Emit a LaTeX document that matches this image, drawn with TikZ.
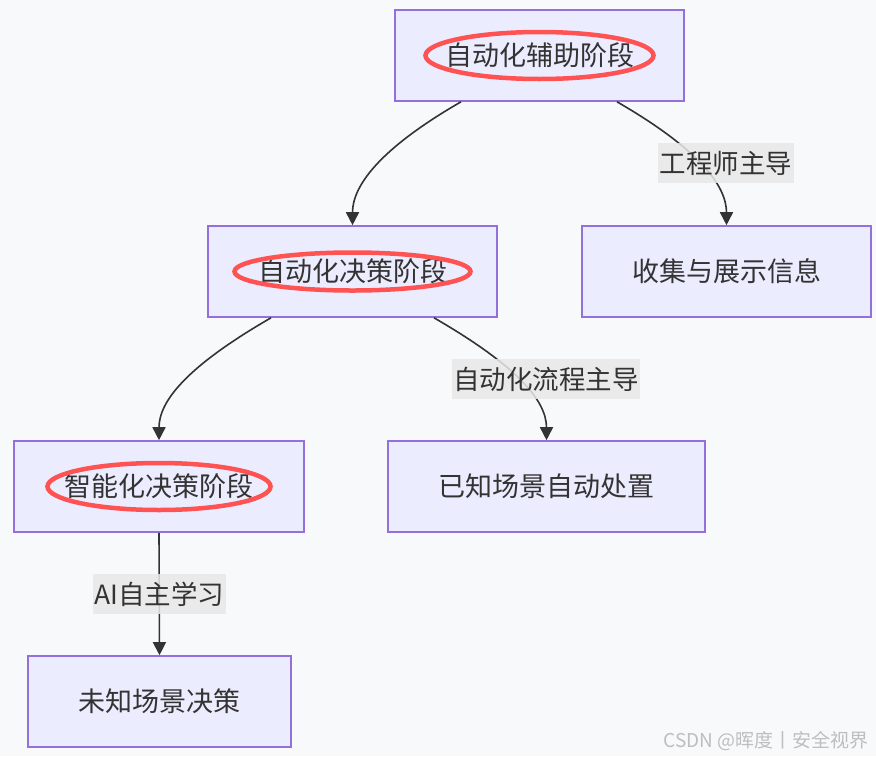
\documentclass[tikz,border=0pt]{standalone}
\usepackage{fontspec}
\usepackage{tikz}
\usetikzlibrary{arrows.meta, positioning}
\setmainfont{Noto Sans CJK SC}
\definecolor{bgcol}{RGB}{248,249,251}
\definecolor{boxfill}{RGB}{236,236,255}
\definecolor{boxline}{RGB}{147,112,219}
\definecolor{edgecol}{RGB}{51,51,51}
\definecolor{lblfill}{RGB}{232,232,232}
\definecolor{ringcol}{RGB}{255,82,82}
\definecolor{markcol}{RGB}{190,190,190}

\begin{document}
\begin{tikzpicture}[x=1pt, y=1pt,
		box/.style={draw=boxline, fill=boxfill, line width=1.6pt, minimum width=289pt, minimum height=91pt, inner sep=0pt, text=edgecol, font=\fontsize{27}{31}\selectfont},
		lbl/.style={fill=lblfill, fill opacity=0.85, text opacity=1, inner xsep=1.5pt, inner ysep=0pt, minimum height=40pt, text=edgecol, font=\fontsize{26.5}{31}\selectfont},
		edge/.style={draw=edgecol, line width=1.6pt, -{Triangle[length=13pt, width=13pt]}},
		ring/.style={draw=ringcol, line width=4.5pt}]
			\fill[bgcol] (0,0) rectangle (876,-756);
			\useasboundingbox (0,0) rectangle (876,-756);
			
			\node[box] (assist) at (539.5,-55.5) {自动化辅助阶段};
			\node[box] (auto) at (352.5,-271.5) {自动化决策阶段};
			\node[box] (info) at (726.5,-271.5) {收集与展示信息};
			\node[box, minimum width=290pt] (smart) at (159,-486.5) {智能化决策阶段};
			\node[box, minimum width=317pt] (known) at (546.5,-486.5) {已知场景自动处置};
			\node[box, minimum width=263pt] (unknown) at (159.5,-701.5) {未知场景决策};
			
			\draw[ring] (assist.center) ellipse [x radius=114, y radius=23.5];
			\draw[ring] (auto.center) ellipse [x radius=118, y radius=19];
			\draw[ring] (smart.center) ellipse [x radius=111.5, y radius=23.5];
			
			\draw[edge] ([xshift=-78.5pt]assist.south) to[out=-150, in=90, out looseness=1.5, in looseness=0.6] (auto.north);
			\draw[edge] ([xshift=77.5pt]assist.south) to[out=-30, in=90, out looseness=1.5, in looseness=0.6] (info.north);
			\draw[edge] ([xshift=-81.5pt]auto.south) to[out=-150, in=90, out looseness=1.5, in looseness=0.6] (smart.north);
			\draw[edge] ([xshift=81.5pt]auto.south) to[out=-30, in=90, out looseness=1.5, in looseness=0.6] (known.north);
			\draw[edge] (smart.south) -- (unknown.north);
			
			\node[lbl] (lead) at (726,-163) {工程师主导};
			\node[lbl] (flow) at (546,-379) {自动化流程主导};
			\node[lbl] (learn) at (159.5,-594) {AI自主学习};
			
			\node[text=markcol, font=\fontsize{19}{22}\selectfont, anchor=east] (mark) at (872,-741) {CSDN @晖度丨安全视界};
		\end{tikzpicture}
\end{document}
